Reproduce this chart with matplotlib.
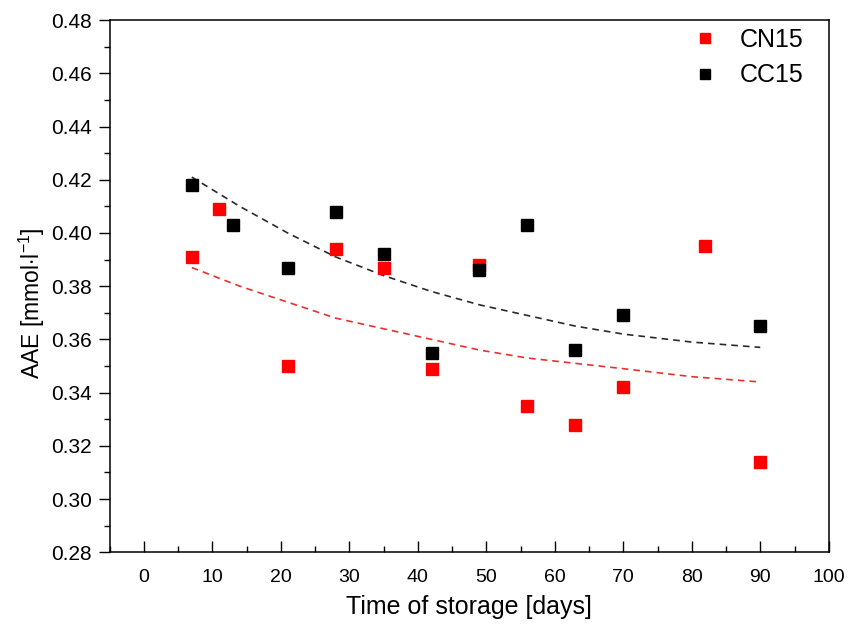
import numpy as np
import matplotlib
matplotlib.use("Agg")
import matplotlib.pyplot as plt
from matplotlib.ticker import MultipleLocator

plt.rcParams["font.family"] = ["Liberation Sans", "DejaVu Sans"]
plt.rcParams["mathtext.fontset"] = "custom"
plt.rcParams["mathtext.rm"] = "Liberation Sans"
plt.rcParams["mathtext.it"] = "Liberation Sans:italic"

# measured points
days_cn = [7, 11, 21, 28, 35, 42, 49, 56, 63, 70, 82, 90]
aae_cn = [0.391, 0.409, 0.350, 0.394, 0.387, 0.349, 0.388, 0.335, 0.328, 0.342, 0.395, 0.314]
days_cc = [7, 13, 21, 28, 35, 42, 49, 56, 63, 70, 90]
aae_cc = [0.418, 0.403, 0.387, 0.408, 0.392, 0.355, 0.386, 0.403, 0.356, 0.369, 0.365]

# fitted trend curves
fit_x = [7, 14, 21, 28, 35, 42, 49, 56, 63, 70, 80, 90]
fit_cn = [0.387, 0.380, 0.374, 0.368, 0.364, 0.360, 0.356, 0.353, 0.351, 0.349, 0.346, 0.344]
fit_cc = [0.421, 0.410, 0.400, 0.391, 0.384, 0.378, 0.373, 0.369, 0.365, 0.362, 0.359, 0.357]

fig = plt.figure(figsize=(8.5, 6.29), dpi=100)
ax = fig.add_axes([0.129, 0.122, 0.846, 0.846])

ax.plot(fit_x, fit_cn, ls=(0, (4, 3)), color="#e8312f", lw=1.2)
ax.plot(fit_x, fit_cc, ls=(0, (4, 3)), color="#2a2a2a", lw=1.2)
ax.plot(days_cn, aae_cn, "s", color="#ff0000", ms=8.5, mec="#ff0000", label="CN15", zorder=3)
ax.plot(days_cc, aae_cc, "s", color="#000000", ms=8.5, label="CC15", zorder=3)

ax.set_xlim(-5, 100)
ax.set_ylim(0.28, 0.48)
ax.xaxis.set_major_locator(MultipleLocator(10))
ax.xaxis.set_minor_locator(MultipleLocator(5))
ax.yaxis.set_major_locator(MultipleLocator(0.02))
ax.yaxis.set_minor_locator(MultipleLocator(0.01))
ax.yaxis.set_major_formatter(matplotlib.ticker.FormatStrFormatter("%.2f"))
ax.tick_params(axis="x", which="major", direction="in", length=8, width=1, labelsize=14, pad=12)
ax.tick_params(axis="x", which="minor", direction="in", length=4.5, width=1)
ax.tick_params(axis="y", which="major", direction="out", length=8, width=1, labelsize=15, pad=5)
ax.tick_params(axis="y", which="minor", direction="out", length=4.5, width=1)
for s in ax.spines.values():
    s.set_linewidth(1.1)

ax.set_xlabel("Time of storage [days]", fontsize=18)
ax.xaxis.set_label_coords(0.5, -0.081)
ax.set_ylabel(r"AAE [mmol$\cdot$l$^{-1}$]", fontsize=16.5)
ax.yaxis.set_label_coords(-0.087, 0.468)

ax.legend(loc="upper right", bbox_to_anchor=(0.965, 0.985), frameon=False, fontsize=18,
          markerscale=0.85, handletextpad=0.6, handlelength=1.6, borderaxespad=0,
          borderpad=0, labelspacing=0.45)

fig.savefig("out.png", dpi=100)
